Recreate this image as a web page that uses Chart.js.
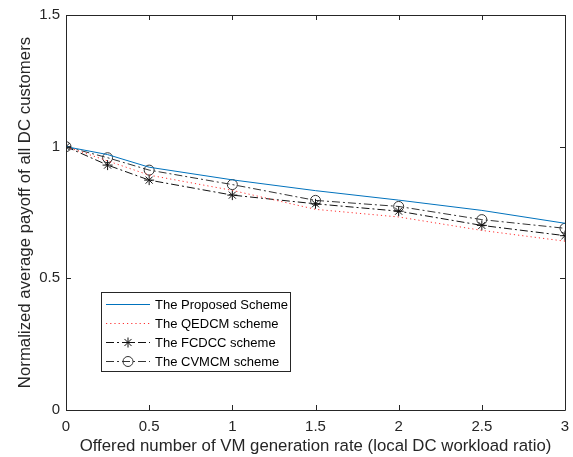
<!DOCTYPE html>
<html>
<head>
<meta charset="utf-8">
<script src="https://cdn.jsdelivr.net/npm/chart.js@4"></script>
<style>
html,body{margin:0;padding:0;background:#fff;}
#wrap{width:573px;height:457px;}
</style>
</head>
<body>
<div id="wrap"><canvas id="c" width="573" height="457"></canvas></div>
<script>
const xValues = [0, 0.25, 0.5, 1, 1.5, 2, 2.5, 3];
const proposed = [1.0, 0.970, 0.922, 0.874, 0.833, 0.797, 0.758, 0.709];
const qedcm    = [1.0, 0.946, 0.892, 0.834, 0.762, 0.733, 0.682, 0.641];
const fcdcc    = [1.0, 0.930, 0.873, 0.816, 0.783, 0.755, 0.701, 0.662];
const cvmcm    = [1.0, 0.958, 0.911, 0.856, 0.796, 0.773, 0.723, 0.690];
const xTickLabels = ['0', '0.5', '1', '1.5', '2', '2.5', '3'];
const yTickLabels = ['0', '0.5', '1', '1.5'];
const seriesNames = ['The Proposed Scheme', 'The QEDCM scheme', 'The FCDCC scheme', 'The CVMCM scheme'];

const toPts = arr => xValues.map((x, i) => ({x: x, y: arr[i]}));

const styles = [
  {color: '#0072BD', dash: [], point: false},
  {color: '#FF3030', dash: [1.2, 3], point: false},
  {color: '#111111', dash: [8, 3, 2, 3], point: 'star'},
  {color: '#333333', dash: [8, 3, 2, 3], point: 'circle'}
];
const seriesData = [proposed, qedcm, fcdcc, cvmcm];

const datasets = seriesData.map((d, i) => ({
  label: seriesNames[i],
  data: toPts(d),
  borderColor: styles[i].color,
  backgroundColor: 'rgba(0,0,0,0)',
  borderWidth: 1,
  borderDash: styles[i].dash,
  pointStyle: styles[i].point || 'circle',
  pointRadius: styles[i].point ? 5 : 0,
  pointBorderColor: styles[i].color,
  pointBackgroundColor: 'rgba(0,0,0,0)',
  pointBorderWidth: 1,
  tension: 0
}));

const FONT = '"Liberation Sans", Arial, sans-serif';

const framePlugin = {
  id: 'frame',
  afterDatasetsDraw(chart) {
    const {ctx, chartArea: a, scales} = chart;
    ctx.save();
    ctx.strokeStyle = '#262626';
    ctx.lineWidth = 1;
    ctx.setLineDash([]);
    ctx.beginPath();
    ctx.rect(Math.round(a.left) + 0.5, Math.round(a.top) + 0.5, Math.round(a.right - a.left), Math.round(a.bottom - a.top));
    ctx.stroke();
    const tl = 5;
    ctx.beginPath();
    scales.x.ticks.forEach(t => {
      const px = Math.round(scales.x.getPixelForValue(t.value)) + 0.5;
      ctx.moveTo(px, a.bottom); ctx.lineTo(px, a.bottom - tl);
      ctx.moveTo(px, a.top); ctx.lineTo(px, a.top + tl);
    });
    scales.y.ticks.forEach(t => {
      const py = Math.round(scales.y.getPixelForValue(t.value)) + 0.5;
      ctx.moveTo(a.left, py); ctx.lineTo(a.left + tl, py);
      ctx.moveTo(a.right, py); ctx.lineTo(a.right - tl, py);
    });
    ctx.stroke();

    // legend
    const bx = 101.5, by = 292.5, bw = 189, bh = 79;
    ctx.fillStyle = '#fff';
    ctx.fillRect(bx, by, bw, bh);
    ctx.strokeStyle = '#262626';
    ctx.strokeRect(bx, by, bw, bh);
    const rows = [304, 323, 342, 361];
    ctx.font = '13px ' + FONT;
    ctx.textBaseline = 'middle';
    ctx.textAlign = 'left';
    seriesNames.forEach((name, i) => {
      const y = rows[i] + 0.5;
      const s = styles[i];
      ctx.strokeStyle = s.color;
      ctx.lineWidth = 1;
      ctx.setLineDash(s.dash);
      ctx.beginPath();
      ctx.moveTo(106, y); ctx.lineTo(150, y);
      ctx.stroke();
      ctx.setLineDash([]);
      if (s.point) {
        ctx.fillStyle = 'rgba(0,0,0,0)';
        Chart.helpers.drawPoint(ctx, {pointStyle: s.point, radius: 5, rotation: 0, borderWidth: 1}, 128, y);
      }
      ctx.fillStyle = '#000';
      ctx.fillText(name, 155, y + 0.5);
    });
    ctx.restore();
  }
};

new Chart(document.getElementById('c'), {
  type: 'line',
  data: {datasets: datasets},
  options: {
    responsive: false,
    animation: false,
    devicePixelRatio: 1,
    layout: {padding: {top: 15, right: 8, left: 0, bottom: 0}},
    plugins: {legend: {display: false}, tooltip: {enabled: false}},
    scales: {
      x: {
        type: 'linear', min: 0, max: 3,
        afterFit: s => { s.height = 47; s.paddingLeft = 0; s.paddingRight = 0; },
        afterBuildTicks: s => { s.ticks = xTickLabels.map(v => ({value: parseFloat(v)})); },
        ticks: {
          callback: (v, i) => xTickLabels[i],
          color: '#262626', padding: 8, maxRotation: 0, autoSkip: false,
          font: {family: FONT, size: 15}
        },
        grid: {display: true, drawOnChartArea: false, drawTicks: false},
        border: {display: false},
        title: {
          display: true,
          text: 'Offered number of VM generation rate (local DC workload ratio)',
          color: '#262626',
          font: {family: FONT, size: 16.8},
          padding: {top: 0, bottom: 1}
        }
      },
      y: {
        type: 'linear', min: 0, max: 1.5,
        afterFit: s => { s.width = 66; s.paddingTop = 0; s.paddingBottom = 0; },
        afterBuildTicks: s => { s.ticks = yTickLabels.map(v => ({value: parseFloat(v)})); },
        ticks: {
          callback: (v, i) => yTickLabels[i],
          color: '#262626', padding: 6, autoSkip: false,
          font: {family: FONT, size: 15}
        },
        grid: {display: true, drawOnChartArea: false, drawTicks: false},
        border: {display: false},
        title: {
          display: true,
          text: 'Normalized average payoff of all DC customers',
          color: '#262626',
          font: {family: FONT, size: 16.8},
          padding: {top: 15, bottom: 0}
        }
      }
    }
  },
  plugins: [framePlugin]
});
</script>
</body>
</html>
